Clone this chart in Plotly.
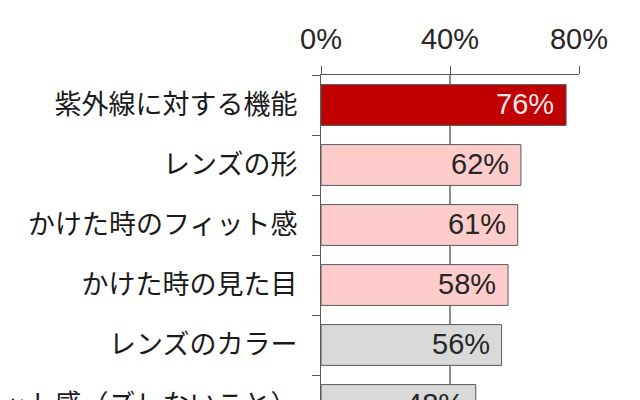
import plotly.graph_objects as go

# survey items and share of respondents (%)
items = ["紫外線に対する機能", "レンズの形", "かけた時のフィット感",
         "かけた時の見た目", "レンズのカラー", "フィット感（ズレないこと）"]
shares = [76, 62, 61, 58, 56, 48]
tick_vals = [0, 40, 80]
tick_text = ["0%", "40%", "80%"]

bar_colors = ["#C00000", "#FFCCCC", "#FFCCCC", "#FFCCCC", "#D9D9D9", "#D9D9D9"]
label_colors = ["#FFE4E4", "#262626", "#262626", "#262626", "#262626", "#262626"]

fig = go.Figure()

fig.add_trace(go.Bar(
    y=items, x=shares, orientation="h",
    width=0.68,
    marker=dict(color=bar_colors, line=dict(color="#595959", width=1)),
    hoverinfo="skip",
))

## value labels at the end of each bar
for item, val, col in zip(items, shares, label_colors):
    fig.add_annotation(
        x=val, y=item, text=f"{val}%", showarrow=False,
        xanchor="right", xshift=-10, yshift=1,
        font=dict(family="Liberation Sans, Arial", size=29, color=col),
    )

## page body adds 8px, so the figure is shifted and the bottom row runs off the window
fig.update_layout(
    width=640, height=427,
    margin=dict(l=313, r=69, t=67, b=0, pad=0),
    paper_bgcolor="white", plot_bgcolor="white",
    showlegend=False,
    xaxis=dict(
        side="top", range=[0, 80], tickvals=tick_vals, ticktext=tick_text,
        showgrid=True, gridcolor="#8C8C8C", gridwidth=1.5,
        showline=True, linecolor="#595959", linewidth=1.2,
        ticks="outside", ticklen=8, tickcolor="#595959",
        ticklabelstandoff=5,
        tickfont=dict(family="Liberation Sans, Arial", size=29, color="#262626"),
        zeroline=False, fixedrange=True, automargin=False,
    ),
    yaxis=dict(
        range=[5.5, -0.5], tickson="boundaries",
        showline=True, linecolor="#595959", linewidth=1.2,
        ticks="outside", ticklen=8, tickcolor="#595959",
        ticklabelstandoff=17,
        tickfont=dict(family="Noto Sans CJK JP", size=27, color="#1a1a1a"),
        showgrid=False, fixedrange=True, automargin=False,
    ),
)

fig.write_html("out.html")
